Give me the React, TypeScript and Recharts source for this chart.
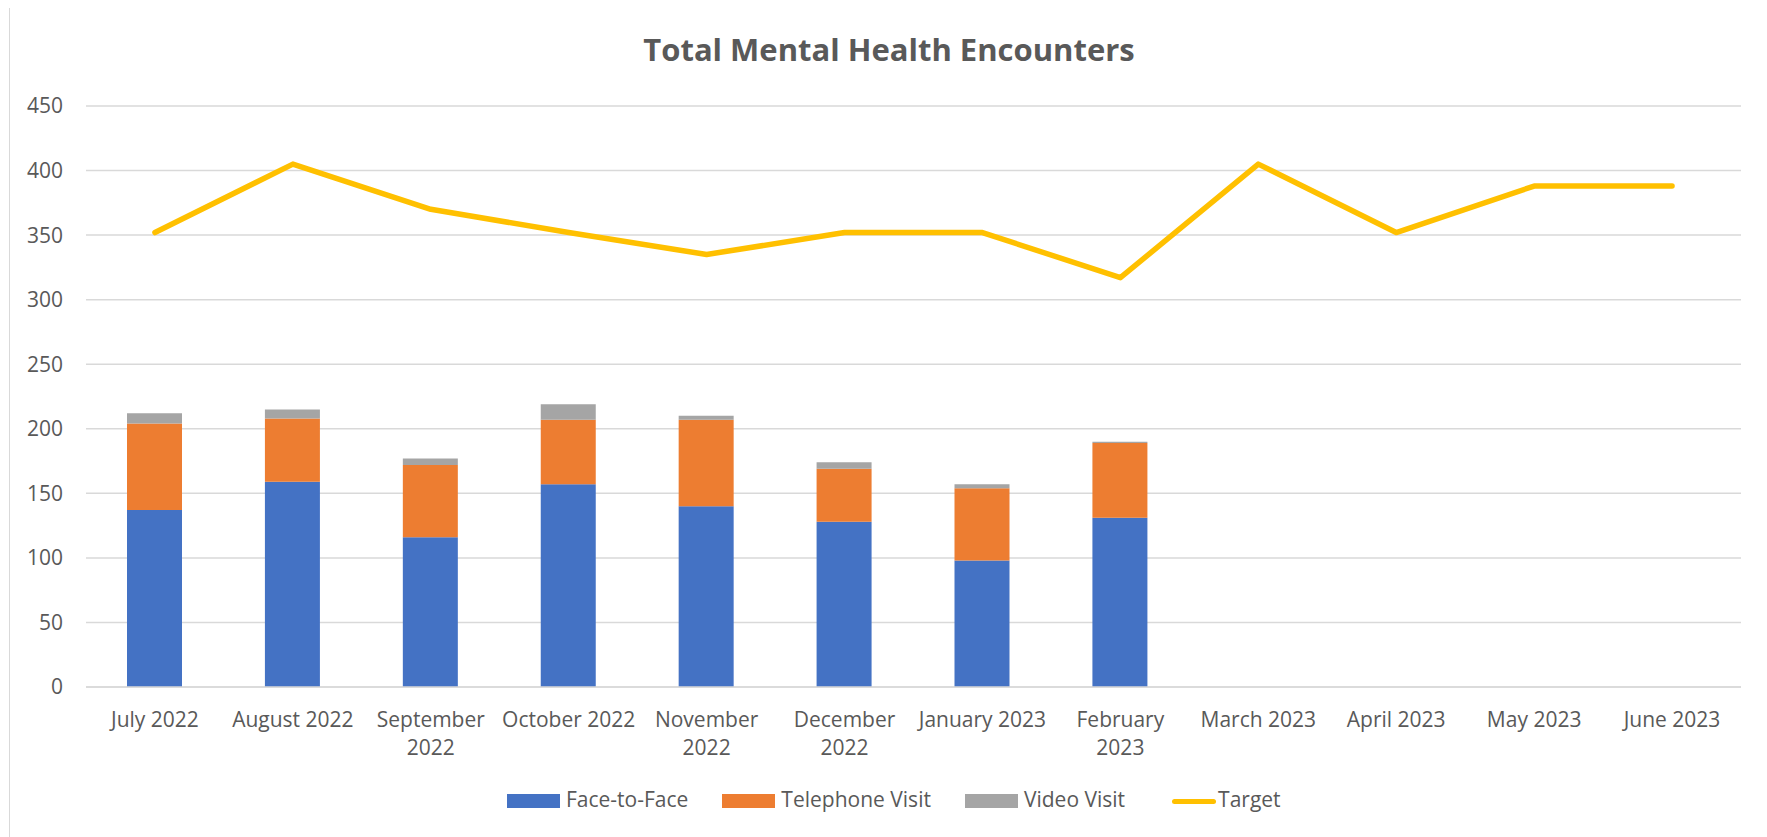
import { Bar, CartesianGrid, ComposedChart, Line, XAxis, YAxis } from "recharts";

const months = [
  "July 2022",
  "August 2022",
  "September 2022",
  "October 2022",
  "November 2022",
  "December 2022",
  "January 2023",
  "February 2023",
  "March 2023",
  "April 2023",
  "May 2023",
  "June 2023",
];
// labels that Excel broke onto two lines
const wrapped = ["September 2022", "November 2022", "December 2022", "February 2023"];

const faceToFace = [137, 159, 116, 157, 140, 128, 98, 131, null, null, null, null];
const telephone = [67, 49, 56, 50, 67, 41, 56, 58, null, null, null, null];
const video = [8, 7, 5, 12, 3, 5, 3, 1, null, null, null, null];
const target = [352, 405, 370, 352, 335, 352, 352, 317, 405, 352, 388, 388];

const yTicks = [0, 50, 100, 150, 200, 250, 300, 350, 400, 450];

const FONT = "'Open Sans', sans-serif";
const INK = "#595959";
const BLUE = "#4472C4";
const ORANGE = "#ED7D31";
const GRAY = "#A5A5A5";
const GOLD = "#FFC000";

const data = months.map((m, i) => ({
  month: m,
  f2f: faceToFace[i],
  tel: telephone[i],
  vid: video[i],
  target: target[i],
}));

function MonthTick({ x, y, payload }: any) {
  const label: string = payload.value;
  let lines = [label];
  if (wrapped.includes(label)) {
    const cut = label.lastIndexOf(" ");
    lines = [label.slice(0, cut), label.slice(cut + 1)];
  }
  return (
    <text x={x} y={y} textAnchor="middle" fill={INK} fontSize={21} fontFamily={FONT}>
      {lines.map((l, i) => (
        <tspan key={i} x={x} dy={i === 0 ? 34 : 28}>
          {l}
        </tspan>
      ))}
    </text>
  );
}

const legendItems = [
  { name: "Face-to-Face", color: BLUE, kind: "box" },
  { name: "Telephone Visit", color: ORANGE, kind: "box" },
  { name: "Video Visit", color: GRAY, kind: "box" },
  { name: "Target", color: GOLD, kind: "line" },
];

export default function App() {
  return (
    <div
      style={{
        position: "relative",
        margin: "-2px 0 0 1px",
        width: 1752,
        height: 840,
        border: "1px solid #d9d9d9",
        boxSizing: "border-box",
        background: "#fff",
        fontFamily: FONT,
      }}
    >
      <div
        style={{
          position: "absolute",
          top: 27,
          left: 4,
          width: "100%",
          textAlign: "center",
          fontSize: 31,
          lineHeight: "31px",
          fontWeight: 700,
          color: INK,
        }}
      >
        Total Mental Health Encounters
      </div>

      <div style={{ position: "absolute", top: 0, left: 0 }}>
        <ComposedChart
          width={1750}
          height={780}
          data={data}
          margin={{ top: 99, right: 19, bottom: 0, left: 0 }}
          barSize={55}
        >
          <CartesianGrid vertical={false} stroke="#d9d9d9" strokeWidth={1.5} />
          <XAxis
            dataKey="month"
            axisLine={{ stroke: "#d9d9d9", strokeWidth: 1.5 }}
            tickLine={false}
            tickMargin={0}
            height={100}
            interval={0}
            tick={<MonthTick />}
          />
          <YAxis
            width={76}
            domain={[0, 450]}
            ticks={yTicks}
            axisLine={false}
            tickLine={false}
            tickMargin={17}
            tick={{ fill: INK, fontSize: 21, fontFamily: FONT }}
          />
          <Bar dataKey="f2f" name="Face-to-Face" stackId="a" fill={BLUE} isAnimationActive={false} />
          <Bar dataKey="tel" name="Telephone Visit" stackId="a" fill={ORANGE} isAnimationActive={false} />
          <Bar dataKey="vid" name="Video Visit" stackId="a" fill={GRAY} isAnimationActive={false} />
          <Line
            dataKey="target"
            name="Target"
            type="linear"
            stroke={GOLD}
            strokeWidth={5.5}
            strokeLinecap="round"
            strokeLinejoin="round"
            dot={false}
            activeDot={false}
            isAnimationActive={false}
          />
        </ComposedChart>
      </div>

      <div
        style={{
          position: "absolute",
          top: 782,
          left: 497,
          display: "flex",
          alignItems: "flex-start",
          fontSize: 21,
          lineHeight: "21px",
          color: INK,
        }}
      >
        {legendItems.map((it) => (
          <div key={it.name} style={{ display: "flex", alignItems: "flex-start", marginRight: 34 }}>
            {it.kind === "box" ? (
              <div style={{ width: 53, height: 14, marginTop: 5, marginRight: 6, background: it.color }} />
            ) : (
              <div
                style={{
                  width: 44,
                  height: 5,
                  marginTop: 10,
                  marginLeft: 13,
                  marginRight: 2,
                  borderRadius: 3,
                  background: it.color,
                }}
              />
            )}
            <span>{it.name}</span>
          </div>
        ))}
      </div>
    </div>
  );
}
